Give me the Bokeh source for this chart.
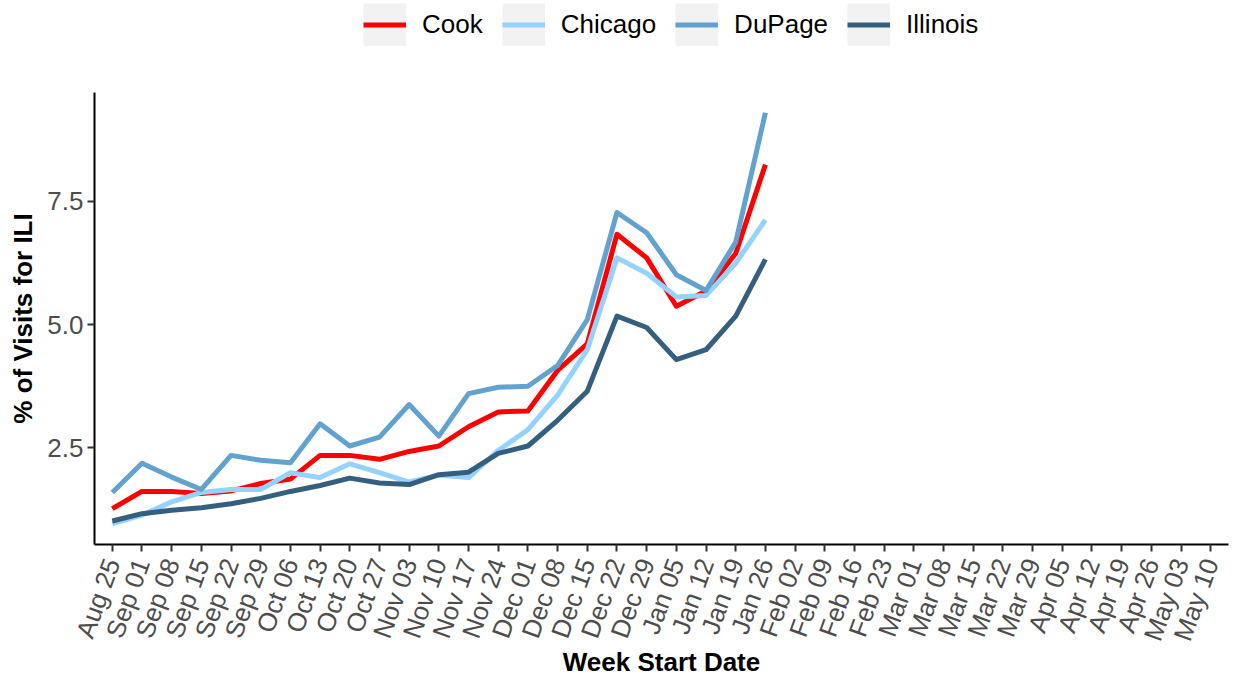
import math
from bokeh.plotting import figure
from bokeh.layouts import column
from bokeh.models import (ColumnDataSource, FactorRange, Range1d, FixedTicker,
                          PrintfTickFormatter, Legend, LegendItem)
from bokeh.embed import file_html
from bokeh.resources import INLINE

weeks = ["Aug 25", "Sep 01", "Sep 08", "Sep 15", "Sep 22", "Sep 29", "Oct 06",
         "Oct 13", "Oct 20", "Oct 27", "Nov 03", "Nov 10", "Nov 17", "Nov 24",
         "Dec 01", "Dec 08", "Dec 15", "Dec 22", "Dec 29", "Jan 05", "Jan 12",
         "Jan 19", "Jan 26", "Feb 02", "Feb 09", "Feb 16", "Feb 23", "Mar 01",
         "Mar 08", "Mar 15", "Mar 22", "Mar 29", "Apr 05", "Apr 12", "Apr 19",
         "Apr 26", "May 03", "May 10"]

cook = [1.27, 1.62, 1.62, 1.58, 1.63, 1.78, 1.87, 2.35, 2.35, 2.27, 2.43, 2.54,
        2.93, 3.23, 3.25, 4.07, 4.61, 6.83, 6.35, 5.37, 5.68, 6.44, 8.24]
chicago = [0.97, 1.14, 1.41, 1.60, 1.66, 1.66, 2.00, 1.90, 2.18, 2.00, 1.81, 1.95,
           1.90, 2.45, 2.87, 3.57, 4.49, 6.35, 6.04, 5.56, 5.59, 6.24, 7.12]
dupage = [1.60, 2.19, 1.91, 1.66, 2.35, 2.25, 2.20, 2.99, 2.54, 2.72, 3.38, 2.74,
          3.60, 3.73, 3.75, 4.17, 5.10, 7.27, 6.86, 6.01, 5.69, 6.67, 9.29]
illinois = [1.02, 1.17, 1.24, 1.29, 1.37, 1.48, 1.62, 1.74, 1.89, 1.79, 1.76, 1.96,
            2.01, 2.39, 2.54, 3.06, 3.65, 5.17, 4.94, 4.29, 4.49, 5.17, 6.32]

series_names = ["Cook", "Chicago", "DuPage", "Illinois"]
series_values = [cook, chicago, dupage, illinois]
series_colors = ["#FF0000", "#94D2FF", "#62A2CF", "#355F7F"]

y_ticks = [2.5, 5.0, 7.5]

FONT = "Liberation Sans"
LW = 5

W = 1233
H_LEG = 60
H_MAIN = 621
BL, BR, BT, BB = 94, 5, 32, 137

Y_RANGE = (0.545, 9.70)

n = len(cook)
data = {"week": weeks[:n]}
for name, vals in zip(series_names, series_values):
    data[name] = vals
source = ColumnDataSource(data)

# ---- legend strip (own figure so that nothing clips it) ----
leg = figure(width=W, height=H_LEG, x_range=FactorRange(factors=weeks),
             y_range=Range1d(*Y_RANGE), x_axis_type=None, y_axis_type=None,
             output_backend="svg", toolbar_location=None, min_border=0)
leg.outline_line_color = None
leg.background_fill_color = "white"
leg.border_fill_color = "white"

items = []
for name, vals, color in zip(series_names, series_values, series_colors):
    proxy = ColumnDataSource({"week": weeks[:1], name: vals[:1]})
    bg = leg.line(x="week", y=name, source=proxy, line_color="#F2F2F2",
                  line_width=43, line_cap="butt")
    fg = leg.line(x="week", y=name, source=proxy, line_color=color,
                  line_width=LW, line_cap="butt")
    items.append(LegendItem(label=name, renderers=[bg, fg]))

# the strip's frame is aligned with the main frame (left edge at BL)
legend = Legend(items=items, orientation="horizontal",
                location=(363 - BL, H_LEG - 3 - 43),
                glyph_width=43, glyph_height=43, label_standoff=16, spacing=19,
                padding=0, margin=0, border_line_color=None,
                background_fill_alpha=0,
                label_text_font=FONT, label_text_font_size="26px",
                label_text_color="black")
leg.add_layout(legend, "center")

# ---- main chart ----
p = figure(width=W, height=H_MAIN,
           x_range=FactorRange(factors=weeks, range_padding=0.1,
                               range_padding_units="absolute"),
           y_range=Range1d(*Y_RANGE),
           output_backend="svg", toolbar_location=None,
           min_border_left=BL, min_border_right=BR,
           min_border_top=BT, min_border_bottom=BB)

p.outline_line_color = None
p.grid.visible = False
p.background_fill_color = "white"
p.border_fill_color = "white"

for name, color in zip(series_names, series_colors):
    p.line(x="week", y=name, source=source, line_color=color,
           line_width=LW, line_join="round")

for ax in (p.xaxis, p.yaxis):
    ax.axis_line_color = "black"
    ax.axis_line_width = 2
    ax.major_tick_line_color = "#333333"
    ax.major_tick_line_width = 2
    ax.major_tick_out = 7
    ax.major_tick_in = 0
    ax.minor_tick_line_color = None
    ax.major_label_text_font = FONT
    ax.major_label_text_font_size = "26px"
    ax.major_label_text_color = "#4D4D4D"
    ax.axis_label_text_font = FONT
    ax.axis_label_text_font_size = "26px"
    ax.axis_label_text_font_style = "bold"
    ax.axis_label_text_color = "black"

p.xaxis.axis_label = "Week Start Date"
p.xaxis.major_label_orientation = math.radians(70)
p.xaxis.major_label_standoff = 8
p.xaxis.axis_label_standoff = -6

p.yaxis.axis_label = "% of Visits for ILI"
p.yaxis.ticker = FixedTicker(ticks=y_ticks)
p.yaxis.formatter = PrintfTickFormatter(format="%.1f")
p.yaxis.major_label_standoff = 4
p.yaxis.axis_label_standoff = 6

layout = column(leg, p)
open("out.html", "w").write(file_html(layout, INLINE))
